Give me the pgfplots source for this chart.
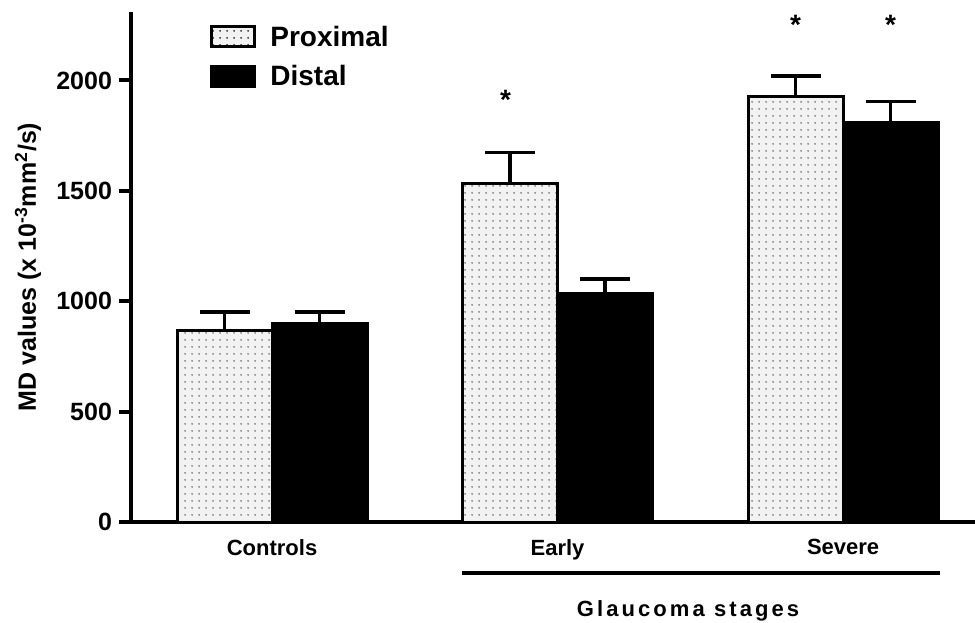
\documentclass[border=0pt]{standalone}
\usepackage{fontspec}
\setmainfont{Liberation Sans}
\usepackage{pgfplots}
\usepackage{pgfplotstable}
\pgfplotsset{compat=1.18}
\usetikzlibrary{patterns.meta}
\tikzdeclarepattern{
  name=fdots,
  type=uncolored,
  bounding box={(0pt,0pt) and (3.5pt,3.5pt)},
  tile size={(3.5pt,3.5pt)},
  code={\pgfpathcircle{\pgfpoint{1.75pt}{1.75pt}}{0.45pt}\pgfusepath{fill}}
}
\pgfplotstableread{
x prox perr dist derr
0 866 85 897 54
1 1533 140 1035 65
2 1929 91 1811 94
}\data
\begin{document}
\begin{tikzpicture}
\begin{axis}[
  scale only axis,
  width=422pt, height=255pt,
  ybar=0pt, bar width=47.5pt,
  xmin=-0.494, xmax=2.462,
  ymin=0, ymax=2310,
  clip=false,
  axis x line*=bottom, axis y line*=left,
  axis line style={line width=2pt, -},
  xtick={0,1,2},
  xticklabels={Controls,Early,Severe},
  x tick style={draw=none},
  major x tick style={draw=none},
  xticklabel style={font=\fontsize{11}{12}\selectfont\bfseries, yshift=1pt},
  ytick={0,500,1000,1500,2000},
  y tick style={line width=2pt, black},
  major tick length=6pt,
  tick align=outside,
  /pgf/number format/assume math mode=true,
  /pgf/number format/set thousands separator={},
  yticklabel style={font=\fontsize{12.5}{14}\selectfont\bfseries},
  ylabel={MD values (x 10\textsuperscript{-3}mm\textsuperscript{2}/s)},
  ylabel style={font=\fontsize{12.5}{14}\selectfont\bfseries, at={(axis description cs:-0.122,0.5)}, anchor=center, rotate=0},
  legend style={draw=none, fill=none, at={(axis description cs:0.0936,0.981)}, anchor=north west, inner sep=0pt,
    font=\fontsize{14}{16}\selectfont\bfseries, row sep=4pt},
  legend cell align=left,
  error bars/y dir=plus,
  error bars/y explicit,
  error bars/error bar style={line width=1.8pt, black},
  error bars/error mark options={rotate=90, mark size=12.5pt, line width=1.8pt, black},
]
\addplot[fill=black!5, draw=black, line width=1.5pt,
  postaction={pattern={fdots}, pattern color=black!75},
  legend image code/.code={\draw[fill=black!5, line width=1.5pt, postaction={pattern={fdots}, pattern color=black!75}] (0pt,-4.5pt) rectangle (21.5pt,5.5pt);}]
  table[x=x, y=prox, y error=perr] {\data};
\addplot[fill=black, draw=black, line width=1.5pt,
  legend image code/.code={\draw[fill=black, line width=1.5pt] (0pt,-4.5pt) rectangle (21.5pt,5.5pt);}]
  table[x=x, y=dist, y error=derr] {\data};
\legend{\hspace{5pt}Proximal, \hspace{5pt}Distal}
\node[font=\fontsize{14}{14}\selectfont\bfseries, anchor=base, xshift=-26pt] at (axis cs:1,1870) {*};
\node[font=\fontsize{14}{14}\selectfont\bfseries, anchor=base, xshift=-23.75pt] at (axis cs:2,2210) {*};
\node[font=\fontsize{14}{14}\selectfont\bfseries, anchor=base, xshift=23.75pt] at (axis cs:2,2210) {*};
\draw[line width=2pt] (axis cs:0.666,-231) -- (axis cs:2.34,-231);
\node[font=\fontsize{11}{12}\selectfont\bfseries\addfontfeature{LetterSpace=14}, anchor=base] at (axis cs:1.457,-430) {Glaucoma stages};
\end{axis}
\pgfresetboundingbox
\path[use as bounding box] ([xshift=-65.5pt,yshift=-50pt]current axis.south west) rectangle ([yshift=6pt]current axis.north east);
\end{tikzpicture}
\end{document}
